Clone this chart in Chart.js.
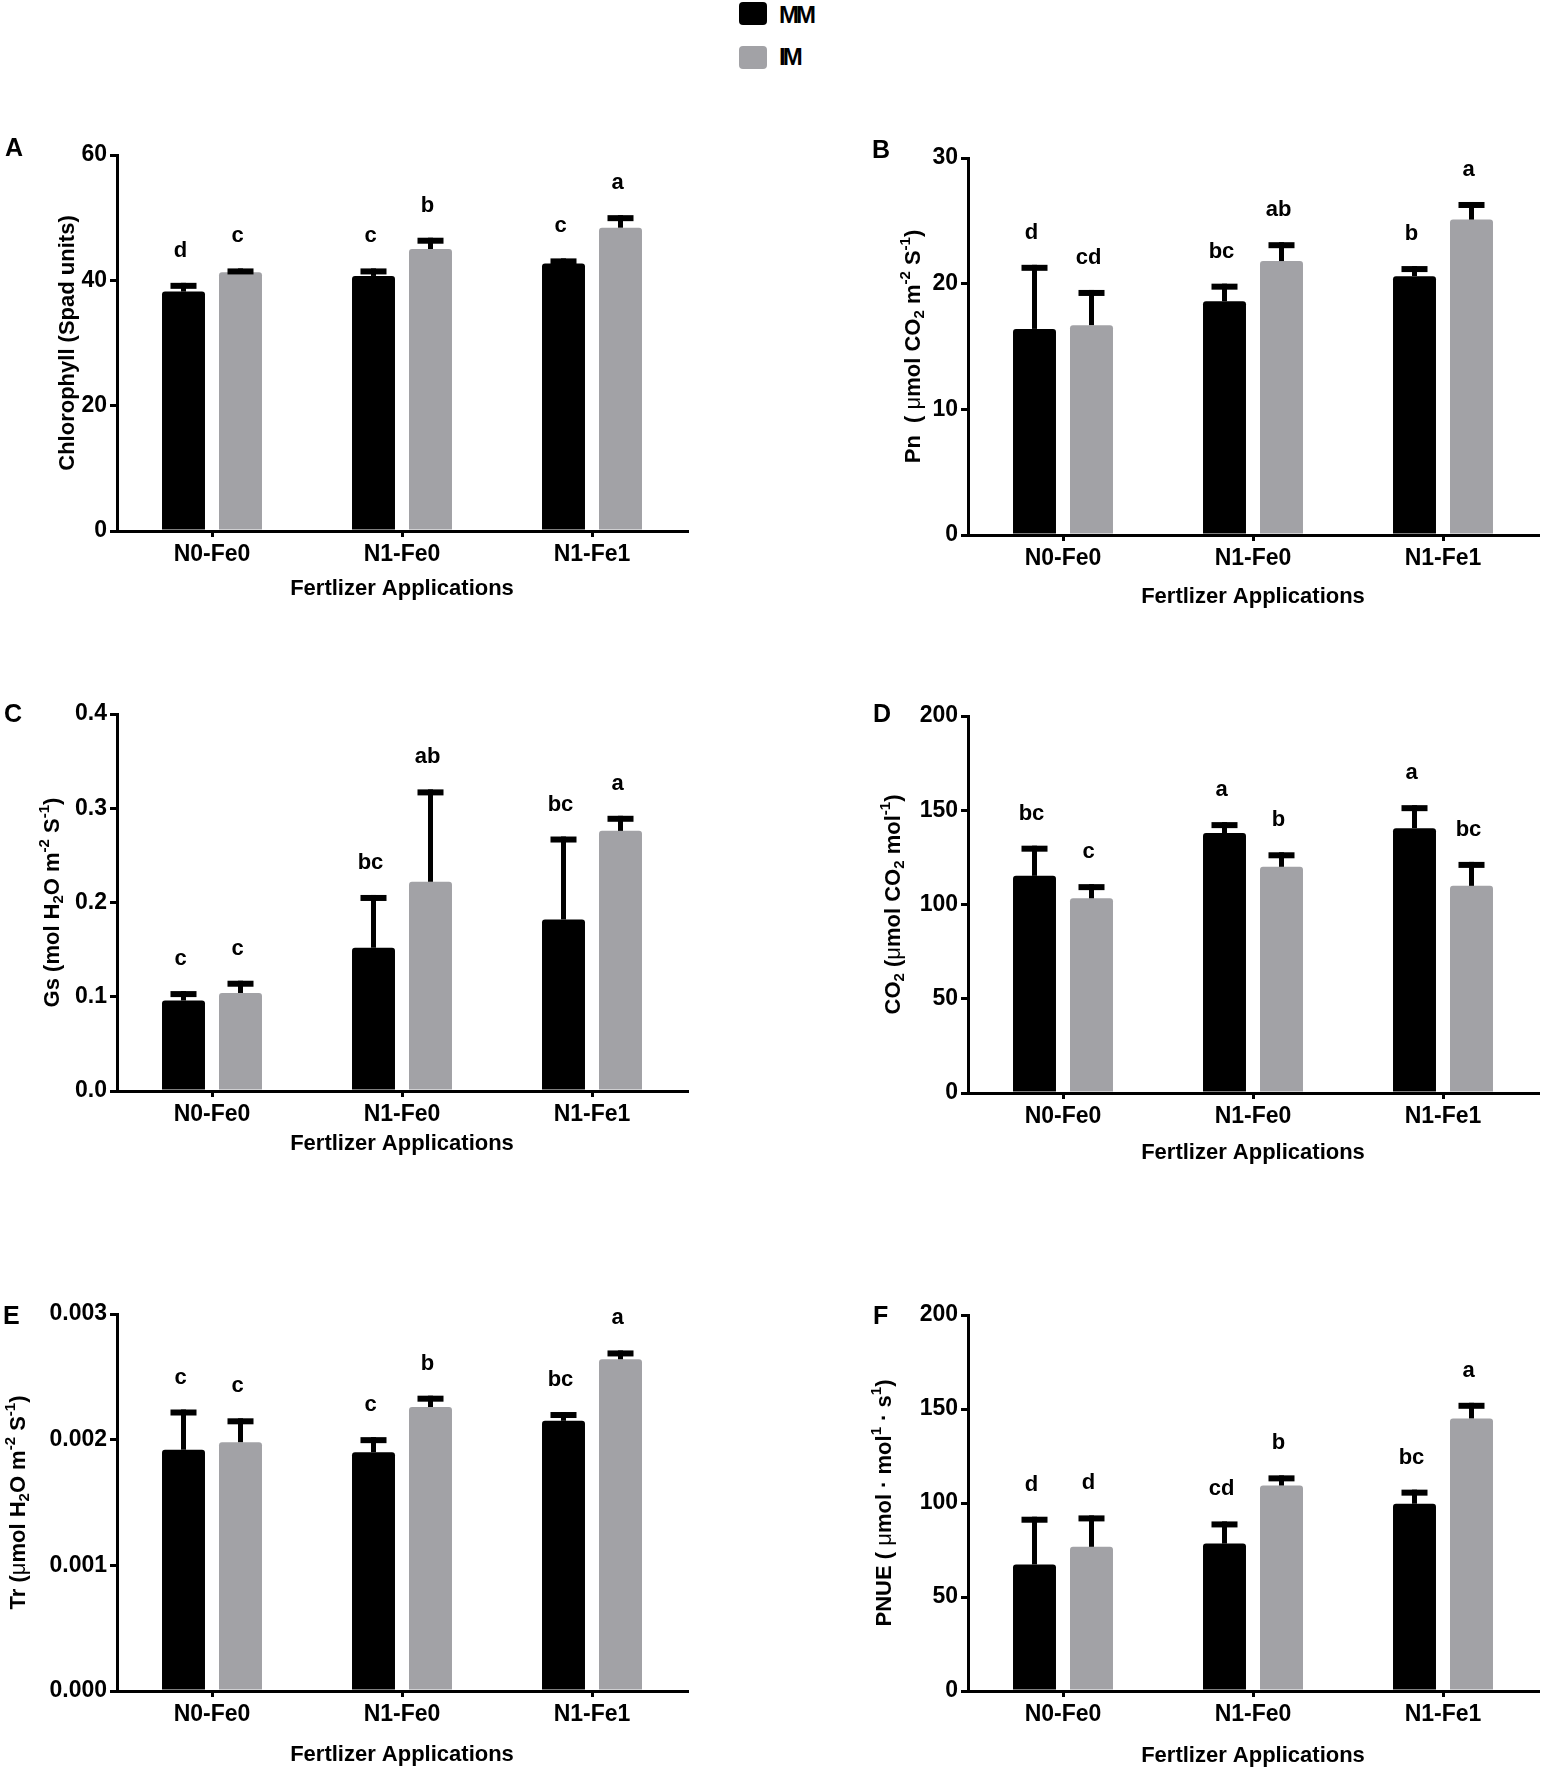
<!DOCTYPE html>
<html>
<head>
<meta charset="utf-8">
<script src="https://cdn.jsdelivr.net/npm/chart.js@4.4.1/dist/chart.umd.min.js"></script>
<style>
body{margin:0;background:#fff;width:1542px;height:1772px;position:relative;overflow:hidden;font-family:"Liberation Sans",Arial,sans-serif}
canvas{position:absolute}
.box{position:absolute;width:28px;height:23px;border-radius:4px}
.lt{position:absolute;font:bold 24px/24px "Liberation Sans",Arial,sans-serif;letter-spacing:-3px;color:#000}
</style>
</head>
<body>
<div class="box" style="left:739px;top:2px;background:#000"></div>
<div class="lt" style="left:779px;top:3px">MM</div>
<div class="box" style="left:739px;top:46px;background:#a2a2a6"></div>
<div class="lt" style="left:779px;top:45px">IM</div>

<canvas id="cA"></canvas>
<canvas id="cB"></canvas>
<canvas id="cC"></canvas>
<canvas id="cD"></canvas>
<canvas id="cE"></canvas>
<canvas id="cF"></canvas>

<script>
// categories and series
const categories = ["N0-Fe0", "N1-Fe0", "N1-Fe1"]
const seriesNames = ["MM", "IM"]

// A - chlorophyll
const chlMM = [38.2, 40.7, 42.7]
const chlMMErr = [1.4, 1.2, 0.8]
const chlIM = [41.3, 45.0, 48.4]
const chlIMErr = [0.6, 1.8, 2.0]
const chlMMLetters = ["d", "c", "c"]
const chlIMLetters = ["c", "b", "a"]
const chlTicks = [0, 20, 40, 60]

// B - Pn
const pnMM = [16.4, 18.6, 20.6]
const pnMMErr = [5.1, 1.4, 0.8]
const pnIM = [16.7, 21.8, 25.1]
const pnIMErr = [2.8, 1.5, 1.4]
const pnMMLetters = ["d", "bc", "b"]
const pnIMLetters = ["cd", "ab", "a"]
const pnTicks = [0, 10, 20, 30]

// C - Gs
const gsMM = [0.096, 0.152, 0.182]
const gsMMErr = [0.010, 0.056, 0.088]
const gsIM = [0.104, 0.222, 0.276]
const gsIMErr = [0.013, 0.098, 0.016]
const gsMMLetters = ["c", "bc", "bc"]
const gsIMLetters = ["c", "ab", "a"]
const gsTicks = [0, 0.1, 0.2, 0.3, 0.4]

// D - CO2
const co2MM = [115.2, 137.9, 140.5]
const co2MMErr = [16.0, 5.8, 12.2]
const co2IM = [103.3, 120.0, 109.9]
const co2IMErr = [7.5, 7.7, 12.7]
const co2MMLetters = ["bc", "a", "a"]
const co2IMLetters = ["c", "b", "bc"]
const co2Ticks = [0, 50, 100, 150, 200]

// E - Tr
const trMM = [0.00192, 0.00190, 0.00215]
const trMMErr = [0.00032, 0.00012, 0.00007]
const trIM = [0.00198, 0.00226, 0.00264]
const trIMErr = [0.00019, 0.00009, 0.00007]
const trMMLetters = ["c", "c", "bc"]
const trIMLetters = ["c", "b", "a"]
const trTicks = [0, 0.001, 0.002, 0.003]

// F - PNUE
const pnueMM = [67.3, 78.4, 99.6]
const pnueMMErr = [25.4, 11.8, 7.5]
const pnueIM = [76.7, 109.3, 145.0]
const pnueIMErr = [16.7, 5.4, 8.3]
const pnueMMLetters = ["d", "cd", "bc"]
const pnueIMLetters = ["d", "b", "a"]
const pnueTicks = [0, 50, 100, 150, 200]

const xTitle = "Fertlizer Applications"

const FONT = '"Liberation Sans", Arial, sans-serif'
const GREY = "#a2a2a6"

// panel placement (page px)
const panels = [
  {id:"cA", letter:"A", x0:0, y0:80, w:760, h:540, area:[117,687,155,531], lx:5, ly:149, tx:68, xt:58,
   mm:chlMM, mmErr:chlMMErr, im:chlIM, imErr:chlIMErr, mmL:chlMMLetters, imL:chlIMLetters, ticks:chlTicks, dec:0,
   title:[["Chlorophyll (Spad units)",""]]},
  {id:"cB", letter:"B", x0:800, y0:80, w:742, h:540, area:[968,1538,158,535], lx:872, ly:151, tx:914, xt:62,
   mm:pnMM, mmErr:pnMMErr, im:pnIM, imErr:pnIMErr, mmL:pnMMLetters, imL:pnIMLetters, ticks:pnTicks, dec:0,
   title:[["Pn  ( ",""],["\u03bc","thin"],["mol CO",""],["2","sub"],[" m",""],["-2","sup"],[" S",""],["-1","sup"],[")",""]]},
  {id:"cC", letter:"C", x0:0, y0:640, w:760, h:540, area:[117,687,714,1091], lx:4, ly:715, tx:53, xt:53,
   mm:gsMM, mmErr:gsMMErr, im:gsIM, imErr:gsIMErr, mmL:gsMMLetters, imL:gsIMLetters, ticks:gsTicks, dec:1,
   title:[["Gs (mol H",""],["2","sub"],["O m",""],["-2","sup"],[" S",""],["-1","sup"],[")",""]]},
  {id:"cD", letter:"D", x0:800, y0:640, w:742, h:540, area:[968,1538,716,1093], lx:873, ly:715, tx:894, xt:60,
   mm:co2MM, mmErr:co2MMErr, im:co2IM, imErr:co2IMErr, mmL:co2MMLetters, imL:co2IMLetters, ticks:co2Ticks, dec:0,
   title:[["CO",""],["2","sub"],[" (",""],["\u03bc","thin"],["mol CO",""],["2","sub"],[" mol",""],["-1","sup"],[")",""]]},
  {id:"cE", letter:"E", x0:0, y0:1232, w:760, h:540, area:[117,687,1314,1691], lx:3, ly:1317, tx:19, xt:64,
   mm:trMM, mmErr:trMMErr, im:trIM, imErr:trIMErr, mmL:trMMLetters, imL:trIMLetters, ticks:trTicks, dec:3,
   title:[["Tr (",""],["\u03bc","thin"],["mol H",""],["2","sub"],["O m",""],["-2","sup"],[" S",""],["-1","sup"],[")",""]]},
  {id:"cF", letter:"F", x0:800, y0:1232, w:742, h:540, area:[968,1538,1315,1691], lx:873, ly:1317, tx:885, xt:65,
   mm:pnueMM, mmErr:pnueMMErr, im:pnueIM, imErr:pnueIMErr, mmL:pnueMMLetters, imL:pnueIMLetters, ticks:pnueTicks, dec:0,
   title:[["PNUE ( ",""],["\u03bc","thin"],["mol \u00b7 mol",""],["1","sup"],[" \u00b7 s",""],["1","sup"],[")",""]]}
]

const YW = 80, XH = 40

function segFont(k){
  if(k=="sub" || k=="sup") return "bold 15px " + FONT
  if(k=="thin") return "22px " + FONT
  return "bold 22px " + FONT
}

const extras = {
  id:"extras",
  afterDatasetsDraw(chart){
    const p = chart.options.plugins.extras.panel
    const ctx = chart.ctx
    const ys = chart.scales.y
    const ca = chart.chartArea
    ctx.save()
    ctx.fillStyle = "#000"
    chart.data.datasets.forEach((ds, i) => {
      chart.getDatasetMeta(i).data.forEach((bar, j) => {
        const top = ys.getPixelForValue(ds.data[j] + ds.err[j])
        ctx.fillRect(bar.x - 2.5, top, 5, bar.y - top)
        ctx.fillRect(bar.x - 13, top, 26, 6)
        ctx.font = "bold 22px " + FONT
        ctx.textAlign = "center"
        ctx.textBaseline = "alphabetic"
        ctx.fillText(ds.letters[j], bar.x - 3, top - 26)
      })
    })
    // x title
    ctx.font = "bold 22px " + FONT
    ctx.textAlign = "center"
    ctx.textBaseline = "middle"
    ctx.fillText(xTitle, (ca.left + ca.right) / 2, ca.bottom + p.xt)
    // panel letter
    ctx.font = "bold 25px " + FONT
    ctx.textAlign = "left"
    ctx.fillText(p.letter, p.lx - p.x0, p.ly - p.y0)
    // y title
    ctx.translate(p.tx - p.x0, (ca.top + ca.bottom) / 2)
    ctx.rotate(-Math.PI / 2)
    let total = 0
    p.title.forEach(s => { ctx.font = segFont(s[1]); total += ctx.measureText(s[0]).width })
    let x = -total / 2
    ctx.textAlign = "left"
    p.title.forEach(s => {
      ctx.font = segFont(s[1])
      const dy = s[1]=="sub" ? 6 : (s[1]=="sup" ? -8 : 0)
      ctx.fillText(s[0], x, dy)
      x += ctx.measureText(s[0]).width
    })
    ctx.restore()
  }
}

panels.forEach(p => {
  const cv = document.getElementById(p.id)
  cv.width = p.w
  cv.height = p.h
  cv.style.left = p.x0 + "px"
  cv.style.top = p.y0 + "px"
  cv.style.width = p.w + "px"
  cv.style.height = p.h + "px"
  const [l, r, t, b] = p.area
  const axisGrid = {display:true, drawOnChartArea:false, drawTicks:true, tickLength:7, lineWidth:3, color:"#000", offset:false}
  const tickFont = {family:FONT, size:23, weight:"bold"}

  new Chart(cv, {
    type:"bar",
    data:{
      labels:categories,
      datasets:[
        {label:seriesNames[0], data:p.mm, err:p.mmErr, letters:p.mmL, backgroundColor:"#000",
         borderRadius:3, borderSkipped:"start", categoryPercentage:0.6, barPercentage:0.754},
        {label:seriesNames[1], data:p.im, err:p.imErr, letters:p.imL, backgroundColor:GREY,
         borderRadius:3, borderSkipped:"start", categoryPercentage:0.6, barPercentage:0.754}
      ]
    },
    options:{
      responsive:false,
      animation:false,
      devicePixelRatio:1,
      layout:{padding:{left:l - p.x0 - YW, right:p.x0 + p.w - r, top:t - p.y0, bottom:p.y0 + p.h - b - XH}},
      plugins:{legend:{display:false}, tooltip:{enabled:false}, extras:{panel:p}},
      scales:{
        x:{
          grid:Object.assign({}, axisGrid, {tickLength:6}),
          border:{display:true, width:3, color:"#000"},
          ticks:{font:tickFont, color:"#000", padding:4, maxRotation:0},
          afterFit(s){ s.height = XH }
        },
        y:{
          min:p.ticks[0],
          max:p.ticks[p.ticks.length - 1],
          grid:axisGrid,
          border:{display:true, width:3, color:"#000"},
          ticks:{font:tickFont, color:"#000", padding:3, callback:v => Number(v).toFixed(p.dec)},
          afterBuildTicks(s){ s.ticks = p.ticks.map(v => ({value:v})) },
          afterFit(s){ s.width = YW }
        }
      }
    },
    plugins:[extras]
  })
})
</script>
</body>
</html>
